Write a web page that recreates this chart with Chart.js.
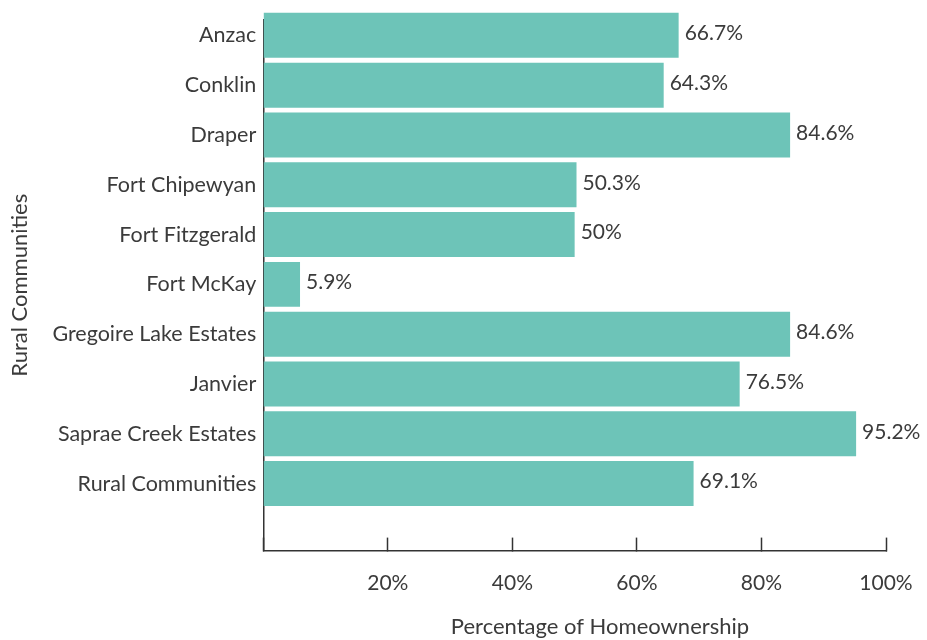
<!DOCTYPE html>
<html>
<head>
<meta charset="utf-8">
<script src="https://cdn.jsdelivr.net/npm/chart.js@4/dist/chart.umd.min.js"></script>
<style>
  html, body { margin: 0; padding: 0; background: #fff; }
  #wrap { width: 927px; height: 640px; }
</style>
</head>
<body>
<div id="wrap"><canvas id="homeChart"></canvas></div>
<script>
// Homeownership by rural community
const communities = [
    'Anzac', 'Conklin', 'Draper', 'Fort Chipewyan', 'Fort Fitzgerald',
    'Fort McKay', 'Gregoire Lake Estates', 'Janvier', 'Saprae Creek Estates',
    'Rural Communities'
];
const ownershipPct = [66.7, 64.3, 84.6, 50.3, 50, 5.9, 84.6, 76.5, 95.2, 69.1];
const xTicks = [0, 20, 40, 60, 80, 100];

const barColor = '#6dc4b8';
const textColor = '#3b3b3b';
const fontFamily = 'Lato, "Open Sans", sans-serif';

// Value labels drawn just past the end of each bar
const valueLabels = {
    id: 'valueLabels',
    afterDatasetsDraw(chart) {
        const ctx = chart.ctx;
        const meta = chart.getDatasetMeta(0);
        ctx.save();
        ctx.font = '21px ' + fontFamily;
        ctx.fillStyle = textColor;
        ctx.textAlign = 'left';
        ctx.textBaseline = 'middle';
        meta.data.forEach((bar, i) => {
            ctx.fillText(ownershipPct[i] + '%', bar.x + 6, bar.y - 2);
        });
        ctx.restore();
    }
};

const ctx = document.getElementById('homeChart').getContext('2d');
new Chart(ctx, {
    type: 'bar',
    data: {
        datasets: [{
            data: ownershipPct.map((v, i) => ({ x: v, y: i })),
            backgroundColor: barColor,
            borderWidth: 0,
            barPercentage: 0.903,
            categoryPercentage: 1,
            clip: false
        }]
    },
    options: {
        indexAxis: 'y',
        responsive: true,
        maintainAspectRatio: false,
        animation: false,
        layout: { padding: { top: 0, right: 41, left: 4, bottom: 0 } },
        plugins: {
            legend: { display: false },
            tooltip: { enabled: false }
        },
        scales: {
            x: {
                type: 'linear',
                min: 0,
                max: 100,
                afterBuildTicks: scale => { scale.ticks = xTicks.map(v => ({ value: v })); },
                grid: {
                    drawOnChartArea: false,
                    tickLength: -13,
                    tickWidth: 1.5,
                    tickColor: '#333'
                },
                border: { color: '#333', width: 1.5 },
                ticks: {
                    // tall line height pushes the labels down without widening side padding
                    padding: 14,
                    color: textColor,
                    font: { family: fontFamily, size: 21, lineHeight: 3 },
                    callback: v => (v === 0 ? '' : v + '%')
                },
                title: {
                    display: true,
                    text: '         Percentage of Homeownership',
                    color: textColor,
                    font: { family: fontFamily, size: 22 },
                    padding: { top: -15, bottom: 0 }
                }
            },
            y: {
                type: 'linear',
                reverse: true,
                offset: false,
                min: -0.31,
                max: 10.345,
                afterBuildTicks: scale => { scale.ticks = communities.map((c, i) => ({ value: i })); },
                grid: { display: false, drawTicks: false },
                border: { color: '#333', width: 1.5 },
                ticks: {
                    padding: 7,
                    color: textColor,
                    font: { family: fontFamily, size: 21.5 },
                    callback: v => communities[v]
                },
                title: {
                    display: true,
                    text: 'Rural Communities',
                    color: textColor,
                    font: { family: fontFamily, size: 22 },
                    padding: { top: 3, bottom: 12 }
                }
            }
        }
    },
    plugins: [valueLabels]
});
</script>
</body>
</html>
